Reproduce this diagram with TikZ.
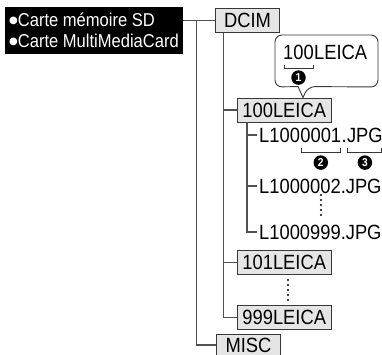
\documentclass[tikz,border=0pt]{standalone}
\usepackage{fontspec}
\setmainfont{Liberation Sans}[FakeStretch=0.89]
\newfontfamily\symfont{DejaVu Sans}
\usepackage{tikz}
\usetikzlibrary{positioning,calc}
\definecolor{linegray}{RGB}{80,80,80}
\definecolor{edgegray}{RGB}{55,55,55}
\definecolor{boxgray}{RGB}{229,229,229}
\newcommand\lbl{\fontsize{20.6}{22}\selectfont}
\newcommand\crd{\fontsize{18.6}{21}\selectfont}
\newcommand\numf{\fontsize{11.5}{11.5}\selectfont\bfseries}
\newcommand\dotb{\raisebox{3.2pt}{\symfont\fontsize{10}{10}\selectfont ●}}

\begin{document}
\begin{tikzpicture}[
        x=1pt, y=-1pt,
        cards/.style={fill=black, text=white, align=left, inner sep=0pt, minimum width=178pt, minimum height=47pt, font=\crd},
        folder/.style={draw=edgegray, fill=boxgray, line width=0.9pt, inner xsep=5pt, inner ysep=0pt, minimum height=24pt, font=\lbl},
        piece/.style={inner sep=0pt, font=\lbl, text height=14.8pt, text depth=0pt},
        conn/.style={draw=linegray, line width=1.1pt},
        brk/.style={draw=edgegray, line width=0.9pt},
        num/.style={circle, fill=black, text=white, inner sep=0pt, minimum size=14.5pt, font=\numf},
        dots/.style={draw=black, line width=2.2pt, line cap=round, dash pattern=on 0pt off 5pt}
      ]
        \useasboundingbox (0,0) rectangle (382,355);
        \node[cards] (cards) at (94,30.5) {\dotb Carte mémoire SD\\\dotb Carte MultiMediaCard};

        % folders
        \node[folder, minimum width=64pt] (dcim) at (247.5,20.5) {DCIM};
        \node[folder, anchor=west] (l100) at (237,110) {100LEICA};
        \node[folder, anchor=west] (l101) at (237,262.5) {101LEICA};
        \node[folder, anchor=west] (l999) at (237,317.5) {999LEICA};
        \node[folder, minimum width=64pt, minimum height=21pt] (misc) at (248.5,345) {MISC};

        % files
        \node[piece, anchor=west] (f1a) at (259,135) {L100};
        \node[piece, right=0pt of f1a] (f1b) {0001};
        \node[piece, right=0pt of f1b] (f1c) {.};
        \node[piece, right=0pt of f1c] (f1d) {JPG};
        \node[piece, anchor=west] (f2) at (259,186) {L1000002.JPG};
        \node[piece, anchor=west] (f999) at (259,232) {L1000999.JPG};

        % callout
        \coordinate (tip) at ($(l100.north west)+(66,0)$);
        \draw[brk, fill=white] (tip) -- ($(tip)+(-5,-11)$) [rounded corners=7pt] -- (275,87) -- (275,35) -- (378,35) -- (378,87) -- ($(tip)+(5,-11)$) [sharp corners] -- cycle;
        \node[piece, anchor=west] (c100) at (283,52) {100};
        \node[piece, right=0pt of c100] (cleica) {LEICA};
        \draw[brk] ($(c100.south west)+(1,5)$) -- ++(0,4) -| ($(c100.south east)+(-1,5)$);
        \node[num] (n1) at ($(c100.south)+(0,18)$) {1};

        % brackets under the file name
        \draw[brk] ($(f1b.south west)+(1,5)$) -- ++(0,5) -| ($(f1b.south east)+(-1,5)$);
        \draw[brk] ($(f1d.south west)+(1,5)$) -- ++(0,5) -| ($(f1d.south east)+(-1,5)$);
        \node[num] (n2) at ($(f1b.south)+(0,20)$) {2};
        \node[num] (n3) at ($(f1d.south)+(0,20)$) {3};

        % tree lines
        \coordinate (spine) at ($(dcim.west)+(-19,0)$);
        \coordinate (sub) at ($(dcim.south west)+(8,0)$);
        \coordinate (fsub) at ($(l100.south west)+(10,0)$);
        \draw[conn] (cards.east |- dcim.west) -- (dcim.west);
        \draw[conn] (spine) |- (misc.west);
        \draw[conn] (sub) |- (l100.west);
        \draw[conn] (sub) |- (l101.west);
        \draw[conn] (sub) |- (l999.west);
        \draw[conn] (fsub) |- ([xshift=-2pt]f1a.west);
        \draw[conn] (fsub) |- ([xshift=-2pt]f2.west);
        \draw[conn] (fsub) |- ([xshift=-2pt]f999.west);

        \draw[dots] (321,195) -- (321,215.5);
        \draw[dots] (288,280) -- (288,300.5);
      \end{tikzpicture}
\end{document}
